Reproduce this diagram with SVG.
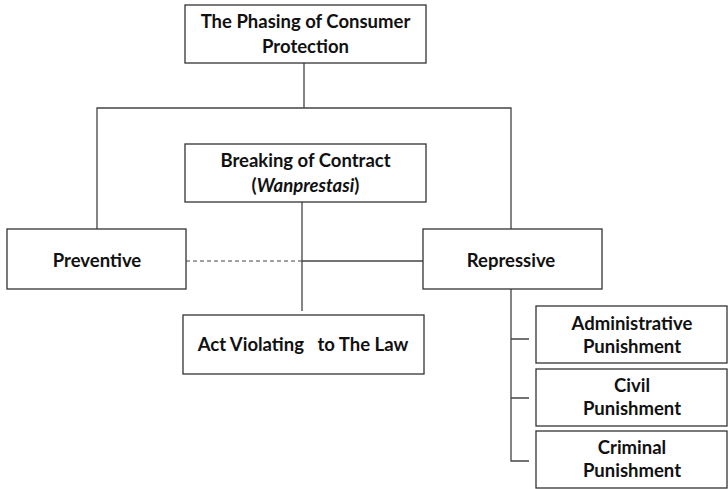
<svg xmlns="http://www.w3.org/2000/svg" width="728" height="489" viewBox="0 0 728 489">
<style>
.box{fill:#ffffff;stroke:#333333;stroke-width:1.3}
.ln{fill:none;stroke:#444444;stroke-width:1.3}
.dash{fill:none;stroke:#444444;stroke-width:1.2;stroke-dasharray:4 3}
text{font-family:Lato,"Open Sans","Liberation Sans",sans-serif;font-weight:bold;font-size:18.5px;fill:#111111;text-anchor:middle}
</style>
<rect width="728" height="489" fill="#ffffff"/>
<g id="connectors">
<path class="ln" d="M304,63 V108 M97,229 V108 H511 V229"/>
<path class="ln" d="M302,202 V311"/>
<path class="dash" d="M186,261 H302"/>
<path class="ln" d="M302,261 H423"/>
<path class="ln" d="M511,289 V461 H529 M511,339 H529 M511,398 H529"/>
</g>
<g id="node-top">
<rect class="box" x="185" y="5" width="241" height="58"/>
<text x="305.5" y="28">The Phasing of Consumer</text>
<text x="305.5" y="53">Protection</text>
</g>
<g id="node-breaking">
<rect class="box" x="185" y="144" width="241" height="58"/>
<text x="305.5" y="167">Breaking of Contract</text>
<text x="305.5" y="192">(<tspan font-style="italic">Wanprestasi</tspan>)</text>
</g>
<g id="node-preventive">
<rect class="box" x="7" y="229" width="179" height="60"/>
<text x="97" y="267">Preventive</text>
</g>
<g id="node-repressive">
<rect class="box" x="423" y="229" width="179" height="60"/>
<text x="511" y="267">Repressive</text>
</g>
<g id="node-act">
<rect class="box" x="183" y="315" width="241" height="59"/>
<text x="303" y="351" xml:space="preserve">Act Violating   to The Law</text>
</g>
<g id="node-admin">
<rect class="box" x="536" y="306" width="191" height="57"/>
<text x="632" y="330">Administrative</text>
<text x="632" y="353">Punishment</text>
</g>
<g id="node-civil">
<rect class="box" x="536" y="369" width="191" height="57"/>
<text x="632" y="392">Civil</text>
<text x="632" y="415">Punishment</text>
</g>
<g id="node-criminal">
<rect class="box" x="536" y="431" width="191" height="57"/>
<text x="632" y="454">Criminal</text>
<text x="632" y="477">Punishment</text>
</g>
</svg>
